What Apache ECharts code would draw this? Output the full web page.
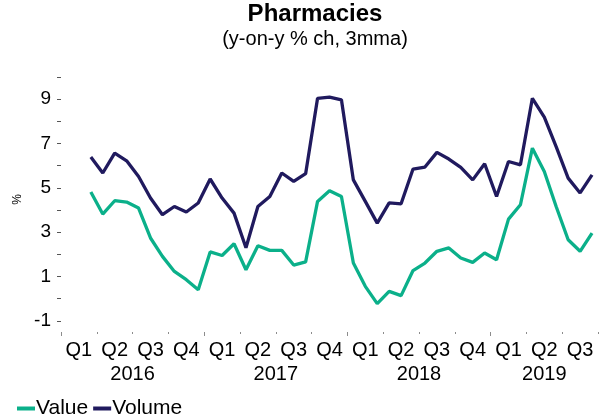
<!DOCTYPE html>
<html>
<head>
<meta charset="utf-8">
<script src="https://cdn.jsdelivr.net/npm/echarts@6/dist/echarts.min.js"></script>
<style>
  html, body { margin: 0; padding: 0; background: #fff; }
  #chart { width: 605px; height: 418px; }
</style>
</head>
<body>
<div id="chart"></div>
<script>
// Monthly categories, Jan 2016 – Sep 2019
const months = [];
for (let y = 2016; y <= 2019; y++) {
  for (let m = 1; m <= 12; m++) {
    if (y === 2019 && m > 9) break;
    months.push(y + '-' + String(m).padStart(2, '0'));
  }
}

// Year labels, placed at the middle of each year's span of months
const yearLabels = ['2016', '2017', '2018', '2019'];
const yearCentres = [6, 18, 30, 40.5];

// Pharmacy sales, y-on-y % change, 3-month moving average (starts Mar 2016)
const valueSeries = [
  null, null,
  4.81, 3.82, 4.42, 4.36, 4.09, 2.74, 1.91, 1.23, 0.86, 0.41,
  2.11, 1.95, 2.48, 1.31, 2.39, 2.18, 2.18, 1.52, 1.66, 4.39, 4.87, 4.61,
  1.61, 0.56, -0.22, 0.33, 0.14, 1.27, 1.61, 2.14, 2.29, 1.84, 1.64, 2.06,
  1.76, 3.59, 4.24, 6.79, 5.74, 4.15, 2.66, 2.14, 2.96
];
const volumeSeries = [
  null, null,
  6.39, 5.67, 6.57, 6.22, 5.51, 4.54, 3.79, 4.16, 3.91, 4.32,
  5.40, 4.54, 3.86, 2.30, 4.16, 4.61, 5.67, 5.29, 5.64, 9.04, 9.09, 8.97,
  5.36, 4.39, 3.41, 4.32, 4.28, 5.85, 5.94, 6.60, 6.30, 5.92, 5.36, 6.09,
  4.61, 6.19, 6.04, 9.04, 8.19, 6.85, 5.44, 4.77, 5.59
];

const yTickValues = [-1, 0, 1, 2, 3, 4, 5, 6, 7, 8, 9, 10];
const yLabelValues = [-1, 1, 3, 5, 7, 9];

const FONT = 'Liberation Sans, Arial, Helvetica, sans-serif';
const GREEN = '#0bb08a';
const NAVY = '#201a5e';
const TICK = '#8c8c8c';

const quarterTicks = [];
for (let i = 0; i <= months.length; i += 3) quarterTicks.push(i);
const yearTicks = [0, 12, 24, 36];

const chart = echarts.init(document.getElementById('chart'), null, { renderer: 'canvas' });

chart.setOption({
  animation: false,
  backgroundColor: '#ffffff',
  textStyle: { fontFamily: FONT },
  title: {
    text: 'Pharmacies',
    subtext: '(y-on-y % ch, 3mma)',
    left: 315,
    top: 2,
    padding: 0,
    textAlign: 'center',
    itemGap: 3,
    textStyle: { fontFamily: FONT, fontSize: 24, fontWeight: 'bold', color: '#000' },
    subtextStyle: { fontFamily: FONT, fontSize: 20, color: '#000' }
  },
  legend: {
    left: 17,
    top: 398,
    padding: 0,
    itemGap: 5,
    itemWidth: 18,
    itemHeight: 4,
    icon: 'rect',
    textStyle: { fontFamily: FONT, fontSize: 21, color: '#000', padding: [0, 0, 0, -4] },
    data: ['Value', 'Volume']
  },
  grid: { left: 61, right: 7, top: 77, bottom: 86, containLabel: false },
  xAxis: [
    {
      type: 'category',
      data: months,
      boundaryGap: true,
      axisLine: { show: false },
      axisTick: { show: false },
      axisLabel: {
        interval: (i) => i % 3 === 1,
        formatter: (v, i) => 'Q' + (Math.floor(i / 3) % 4 + 1),
        fontSize: 20,
        color: '#000',
        margin: 8
      },
      splitLine: { show: false }
    },
    {
      // quarter ticks and year labels along the same baseline
      type: 'value',
      position: 'bottom',
      min: 0,
      max: months.length,
      axisLine: { show: false },
      axisTick: {
        show: true,
        length: 2,
        customValues: quarterTicks,
        lineStyle: { color: TICK, width: 1 }
      },
      axisLabel: {
        show: true,
        customValues: yearCentres,
        formatter: (v) => yearLabels[yearCentres.indexOf(v)] || '',
        fontSize: 20,
        color: '#000',
        margin: 32
      },
      splitLine: { show: false }
    },
    {
      // longer ticks at year boundaries
      type: 'value',
      position: 'bottom',
      min: 0,
      max: months.length,
      axisLine: { show: false },
      axisTick: {
        show: true,
        length: 4,
        customValues: yearTicks,
        lineStyle: { color: TICK, width: 1 }
      },
      axisLabel: { show: false },
      splitLine: { show: false }
    }
  ],
  yAxis: {
    type: 'value',
    min: -1.5,
    max: 10,
    name: '%',
    nameLocation: 'middle',
    nameRotate: 90,
    nameGap: 29,
    nameTextStyle: { fontFamily: FONT, fontSize: 12, color: '#000', padding: [0, 0, 0, 10] },
    axisLine: { show: false },
    axisTick: {
      show: true,
      length: 4,
      customValues: yTickValues,
      lineStyle: { color: '#555', width: 1 }
    },
    axisLabel: {
      customValues: yLabelValues,
      fontSize: 19,
      color: '#000',
      margin: 10
    },
    splitLine: { show: false }
  },
  series: [
    {
      name: 'Value',
      type: 'line',
      xAxisIndex: 0,
      data: valueSeries,
      showSymbol: false,
      symbol: 'none',
      connectNulls: false,
      lineStyle: { color: GREEN, width: 3.3 },
      itemStyle: { color: GREEN }
    },
    {
      name: 'Volume',
      type: 'line',
      xAxisIndex: 0,
      data: volumeSeries,
      showSymbol: false,
      symbol: 'none',
      connectNulls: false,
      lineStyle: { color: NAVY, width: 3.3 },
      itemStyle: { color: NAVY }
    }
  ]
});
</script>
</body>
</html>
